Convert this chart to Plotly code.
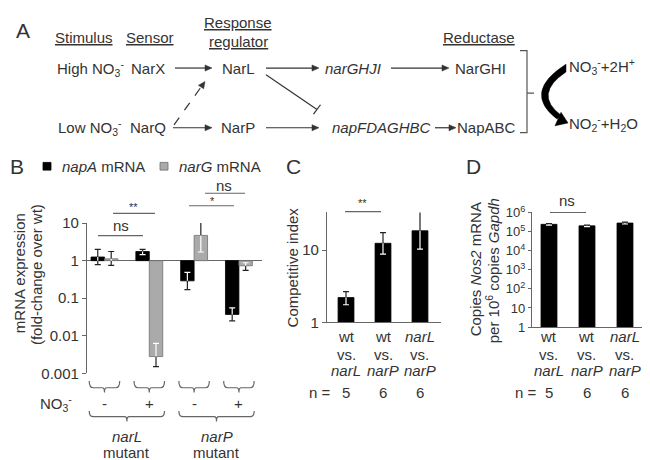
import math
import plotly.graph_objects as go

W, H = 650, 460
FONT = "Liberation Sans, Arial, sans-serif"
TXT = "#333333"
LINE = "#666666"
DARK = "#222222"

# ---------------- data ----------------
b_groups = ["narL -", "narL +", "narP -", "narP +"]
b_nitrate = ["-", "+", "-", "+"]
b_mutants = ["narL", "narP"]
napA = [1.25, 1.75, 0.29, 0.037]
napA_lo = [0.78, 1.45, 0.17, 0.025]
napA_hi = [2.0, 2.0, 0.49, 0.055]
narG = [1.12, 0.0028, 4.7, 0.73]
narG_lo = [0.75, 0.0015, 1.7, 0.55]
narG_hi = [1.75, 0.0063, 15.0, 0.88]
b_ticks = [0.001, 0.01, 0.1, 1, 10]
b_ticklabels = ["0.001", "0.01", "0.1", "1", "10"]

comp_first = ["wt", "wt", "<i>narL</i>"]
comp_second = ["<i>narL</i>", "<i>narP</i>", "<i>narP</i>"]
ci = [2.2, 12.4, 18.5]
ci_lo = [1.75, 8.8, 10.3]
ci_hi = [2.65, 17.4, 34.0]
c_ticks = [1, 10]
c_ticklabels = ["1", "10"]

nos2 = [2.4e5, 2.0e5, 2.8e5]
nos2_lo = [2.2e5, 1.8e5, 2.5e5]
nos2_hi = [2.6e5, 2.2e5, 3.1e5]
d_ticks = [1, 10, 1e2, 1e3, 1e4, 1e5, 1e6]
d_ticklabels = ["1", "10", "10<sup>2</sup>", "10<sup>3</sup>", "10<sup>4</sup>",
                "10<sup>5</sup>", "10<sup>6</sup>"]
n_mice = [5, 6, 6]


# ---------------- helpers ----------------
def X(p):
    return p / W


def Y(p):
    return 1 - p / H


def lg(v):
    return math.log10(v)


def P(x, y):
    return f"{X(x):.5f},{Y(y):.5f}"


def err_segments(xs, vals, los, his, hw):
    dx, dy, wx, wy = [], [], [], []
    for x, v, l, h in zip(xs, vals, los, his):
        v, l, h = lg(v), lg(l), lg(h)
        a, b = min(0, v), max(0, v)
        pts = sorted(set([l, h] + [p for p in (a, b) if l < p < h]))
        for s, e in zip(pts[:-1], pts[1:]):
            mid = (s + e) / 2
            inside = a < mid < b
            tx, ty = (wx, wy) if inside else (dx, dy)
            tx += [x, x, None]
            ty += [s, e, None]
        for end in (l, h):
            inside = a < end < b
            tx, ty = (wx, wy) if inside else (dx, dy)
            tx += [x - hw, x + hw, None]
            ty += [end, end, None]
    return dx, dy, wx, wy


fig = go.Figure()

# ---------------- panel B bars ----------------
xb = list(range(len(b_groups)))
BW = 0.3
fig.add_trace(go.Bar(x=xb, y=[lg(v) for v in napA], width=BW, offset=-BW,
                     marker=dict(color="#000000", line=dict(color="#000000", width=0.8)),
                     name="napA mRNA", xaxis="x", yaxis="y"))
fig.add_trace(go.Bar(x=xb, y=[lg(v) for v in narG], width=BW, offset=0,
                     marker=dict(color="#aaaaaa", line=dict(color="#707070", width=0.8)),
                     name="narG mRNA", xaxis="x", yaxis="y"))
hwB = 3 / 44.8
for xs, v, lo, hi in [([i - BW / 2 for i in xb], napA, napA_lo, napA_hi),
                      ([i + BW / 2 for i in xb], narG, narG_lo, narG_hi)]:
    dx, dy, wx, wy = err_segments(xs, v, lo, hi, hwB)
    fig.add_trace(go.Scatter(x=dx, y=dy, mode="lines", line=dict(color=DARK, width=1.2),
                             hoverinfo="skip", xaxis="x", yaxis="y"))
    fig.add_trace(go.Scatter(x=wx, y=wy, mode="lines", line=dict(color="#ffffff", width=1.2),
                             hoverinfo="skip", xaxis="x", yaxis="y"))

# ---------------- panel C bars ----------------
xc = list(range(len(ci)))
fig.add_trace(go.Bar(x=xc, y=[lg(v) for v in ci], width=0.43,
                     marker=dict(color="#000000", line=dict(color="#000000", width=0.8)),
                     xaxis="x2", yaxis="y2"))
dx, dy, wx, wy = err_segments(xc, ci, ci_lo, ci_hi, 3 / 37)
fig.add_trace(go.Scatter(x=dx, y=dy, mode="lines", line=dict(color=DARK, width=1.2),
                         hoverinfo="skip", xaxis="x2", yaxis="y2"))
fig.add_trace(go.Scatter(x=wx, y=wy, mode="lines", line=dict(color="#ffffff", width=1.2),
                         hoverinfo="skip", xaxis="x2", yaxis="y2"))

# ---------------- panel D bars ----------------
xd = list(range(len(nos2)))
fig.add_trace(go.Bar(x=xd, y=[lg(v) for v in nos2], width=0.42,
                     marker=dict(color="#000000", line=dict(color="#000000", width=0.8)),
                     xaxis="x3", yaxis="y3"))
dx, dy, wx, wy = err_segments(xd, nos2, nos2_lo, nos2_hi, 3 / 38)
fig.add_trace(go.Scatter(x=dx, y=dy, mode="lines", line=dict(color=DARK, width=1.2),
                         hoverinfo="skip", xaxis="x3", yaxis="y3"))
fig.add_trace(go.Scatter(x=wx, y=wy, mode="lines", line=dict(color="#ffffff", width=1.2),
                         hoverinfo="skip", xaxis="x3", yaxis="y3"))

# ---------------- annotations & shapes ----------------
ann = []
shapes = []


def text(x, y, s, size=15, xanchor="center", angle=0, xref="paper", color=TXT):
    ann.append(dict(x=X(x) if xref == "paper" else x, y=Y(y), xref=xref, yref="paper",
                    text=s, showarrow=False, xanchor=xanchor, yanchor="middle",
                    textangle=angle, font=dict(size=size, color=color, family=FONT)))


def line(x0, y0, x1, y1, color=TXT, width=1.2, dash=None):
    shapes.append(dict(type="line", xref="paper", yref="paper", x0=X(x0), y0=Y(y0),
                       x1=X(x1), y1=Y(y1), line=dict(color=color, width=width, dash=dash)))


def head(x0, y0, x1, y1, L=7.0, hw=3.2, color=TXT):
    d = math.hypot(x1 - x0, y1 - y0)
    ux, uy = (x1 - x0) / d, (y1 - y0) / d
    bx, by = x1 - ux * L, y1 - uy * L
    px_, py_ = -uy * hw, ux * hw
    shapes.append(dict(type="path", xref="paper", yref="paper",
                       path=f"M{P(x1, y1)} L{P(bx + px_, by + py_)} L{P(bx - px_, by - py_)} Z",
                       fillcolor=color, line=dict(color=color, width=0.5)))
    return bx + ux * 1.5, by + uy * 1.5


def arrow(x0, y0, x1, y1, dash=None, color=TXT):
    ex, ey = head(x0, y0, x1, y1, color=color)
    line(x0, y0, ex, ey, color=color, dash=dash)


# panel labels
text(15, 14, "A", size=21)
text(9, 155, "B", size=21)
text(285, 155, "C", size=21)
text(465, 155, "D", size=21)

# ----- panel A diagram -----
text(76, 21, "<u>Stimulus</u>")
text(142, 21, "<u>Sensor</u>")
text(230, 6, "<u>Response</u>")
text(230, 25, "<u>regulator</u>")
text(471, 21, "<u>Reductase</u>")

R1, R2 = 53, 115
text(82, R1, "High NO<sub>3</sub><sup>-</sup>")
text(140, R1, "NarX")
text(230, R1, "NarL")
text(345, R1, "<i>narGHJI</i>")
text(472, R1, "NarGHI")
text(82, R2, "Low NO<sub>3</sub><sup>-</sup>")
text(140, R2, "NarQ")
text(230, R2, "NarP")
text(373, R2, "<i>napFDAGHBC</i>")
text(478, R2, "NapABC")
text(559, R1 - 2, "NO<sub>3</sub><sup>-</sup>+2H<sup>+</sup>", xanchor="left")
text(559, R2 - 4, "NO<sub>2</sub><sup>-</sup>+H<sub>2</sub>O", xanchor="left")

arrow(167, R1, 204, R1)
arrow(258, R1, 311, R1)
arrow(383, R1, 441, R1)
arrow(165, R2, 204, R2)
arrow(258, R2, 311, R2)
arrow(427, R2, 448, R2)
# dashed NarQ -> NarL
arrow(166, 112, 197, 67, dash="dash")
# inhibition NarL -| napFDAGHBC
line(258, 60, 309, 96)
line(305.5, 100.9, 312.5, 91.1)
# bracket
shapes.append(dict(type="path", xref="paper", yref="paper",
                   path=f"M{P(512,35)} L{P(519,35)} L{P(519,120)} L{P(512,120)} M{P(519,79)} L{P(526,79)}",
                   line=dict(color="#555555", width=1.2)))
# curved thick arrow
shapes.append(dict(type="path", xref="paper", yref="paper",
                   path=f"M{P(558,49)} Q{P(514,78)} {P(549,106)} L{P(553,102)} Q{P(525,80)} {P(558,57)} Z",
                   fillcolor="#000000", line=dict(color="#000000", width=0.5)))
shapes.append(dict(type="path", xref="paper", yref="paper",
                   path=f"M{P(560,110)} L{P(553,99)} L{P(547,113)} Z",
                   fillcolor="#000000", line=dict(color="#000000", width=0.5)))

# ----- panel B legend -----
shapes.append(dict(type="rect", xref="paper", yref="paper", x0=X(35), x1=X(43), y0=Y(159), y1=Y(151),
                   fillcolor="#000000", line=dict(color="#000000", width=0.8)))
shapes.append(dict(type="rect", xref="paper", yref="paper", x0=X(152), x1=X(160), y0=Y(159), y1=Y(151),
                   fillcolor="#aaaaaa", line=dict(color="#707070", width=0.8)))
text(52, 155, "<i>napA</i> mRNA", xanchor="left")
text(169, 155, "<i>narG</i> mRNA", xanchor="left")

# ----- panel B significance -----
line(90, 227, 135, 227, color=LINE)
text(113, 217, "ns")
line(105, 204, 147, 204, color=LINE)
text(125, 197, "**", size=11)
line(181, 196, 226, 196, color=LINE)
text(204, 191, "*", size=11)
line(197, 183, 237, 183, color=LINE)
text(216, 175, "ns")

# y title B (two rotated lines)
text(11, 266, "mRNA expression", angle=-90)
text(28, 268, "(fold-change over wt)", angle=-90)


# braces for B
def brace(x0, x1, ytop, ybot, ytick):
    xm = (x0 + x1) / 2
    pts = lambda x, y: f"{x:.4f},{Y(y):.5f}"
    return dict(type="path", xref="x", yref="paper",
                path=(f"M{pts(x0, ytop)} Q{pts(x0, ybot)} {pts(x0 + 0.09, ybot)} "
                      f"L{pts(xm - 0.05, ybot)} Q{pts(xm, ybot)} {pts(xm, ytick)} "
                      f"Q{pts(xm, ybot)} {pts(xm + 0.05, ybot)} L{pts(x1 - 0.09, ybot)} "
                      f"Q{pts(x1, ybot)} {pts(x1, ytop)}"),
                line=dict(color=LINE, width=1.2))


for i in xb:
    shapes.append(brace(i - 0.34, i + 0.34, 378, 385, 390))
    text(i, 401, b_nitrate[i], xref="x")
text(48, 401, "NO<sub>3</sub><sup>-</sup>")
for k, m in enumerate(b_mutants):
    shapes.append(brace(2 * k - 0.34, 2 * k + 1.34, 409, 415, 420))
    text(2 * k + 0.5, 436, f"<i>{m}</i>", xref="x")
    text(2 * k + 0.5, 452, "mutant", xref="x")

# ----- panel C -----
line(337, 202, 373, 202, color=LINE)
text(355, 193, "**", size=11)
text(284, 260, "Competitive index", angle=-90)
text(325, 390, "n =", xanchor="right")
for i, n in enumerate(n_mice):
    text(xc[i], 332, comp_first[i], xref="x2")
    text(xc[i], 350, "vs.", xref="x2")
    text(xc[i], 367, comp_second[i], xref="x2")
    text(xc[i], 390, str(n), xref="x2")

# ----- panel D -----
line(542, 203, 578, 203, color=LINE)
text(559, 191, "ns")
text(467, 262, "Copies <i>Nos2</i> mRNA", angle=-90)
text(484, 263, "per 10<sup>6</sup> copies <i>Gapdh</i>", angle=-90)
text(531, 390, "n =", xanchor="right")
for i, n in enumerate(n_mice):
    text(xd[i], 332, comp_first[i], xref="x3")
    text(xd[i], 350, "vs.", xref="x3")
    text(xd[i], 367, comp_second[i], xref="x3")
    text(xd[i], 390, str(n), xref="x3")

axis_common = dict(showgrid=False, fixedrange=True)
tickfont = dict(size=15, color=TXT, family=FONT)

fig.update_layout(
    width=W, height=H, autosize=False, margin=dict(l=0, r=0, t=0, b=0),
    paper_bgcolor="white", plot_bgcolor="white", showlegend=False, barmode="overlay",
    font=dict(family=FONT, size=15, color=TXT),
    xaxis=dict(domain=[X(79), X(254)], range=[-0.39, 3.515], zeroline=False, showline=False,
               showticklabels=False, ticks="", anchor="y", **axis_common),
    yaxis=dict(domain=[Y(370), Y(214)], range=[-3, 1], tickvals=[lg(v) for v in b_ticks],
               ticktext=b_ticklabels, ticks="outside", ticklen=4, tickcolor=LINE,
               showline=True, linecolor=LINE, linewidth=1.2, zeroline=True,
               zerolinecolor=LINE, zerolinewidth=1.2, tickfont=tickfont, anchor="x", **axis_common),
    xaxis2=dict(domain=[X(319), X(433)], range=[-0.514, 2.568], showticklabels=False,
                ticks="", showline=True, linecolor=LINE, linewidth=1.2, zeroline=False,
                anchor="y2", **axis_common),
    yaxis2=dict(domain=[Y(317), Y(203)], range=[0, 1.52], tickvals=[lg(v) for v in c_ticks],
                ticktext=c_ticklabels, ticks="outside", ticklen=4, tickcolor=LINE,
                showline=True, linecolor=LINE, linewidth=1.2, zeroline=False,
                tickfont=tickfont, anchor="x2", **axis_common),
    xaxis3=dict(domain=[X(524), X(648)], range=[-0.447, 2.816], showticklabels=False,
                ticks="", showline=True, linecolor=LINE, linewidth=1.2, zeroline=False,
                anchor="y3", **axis_common),
    yaxis3=dict(domain=[Y(322), Y(203)], range=[0, 6], tickvals=[lg(v) for v in d_ticks],
                ticktext=d_ticklabels, ticks="outside", ticklen=3, tickcolor=LINE,
                showline=True, linecolor=LINE, linewidth=1.2, zeroline=False,
                tickfont=dict(size=13, color=TXT, family=FONT), anchor="x3", **axis_common),
    annotations=ann, shapes=shapes,
)

fig.write_html("out.html")
